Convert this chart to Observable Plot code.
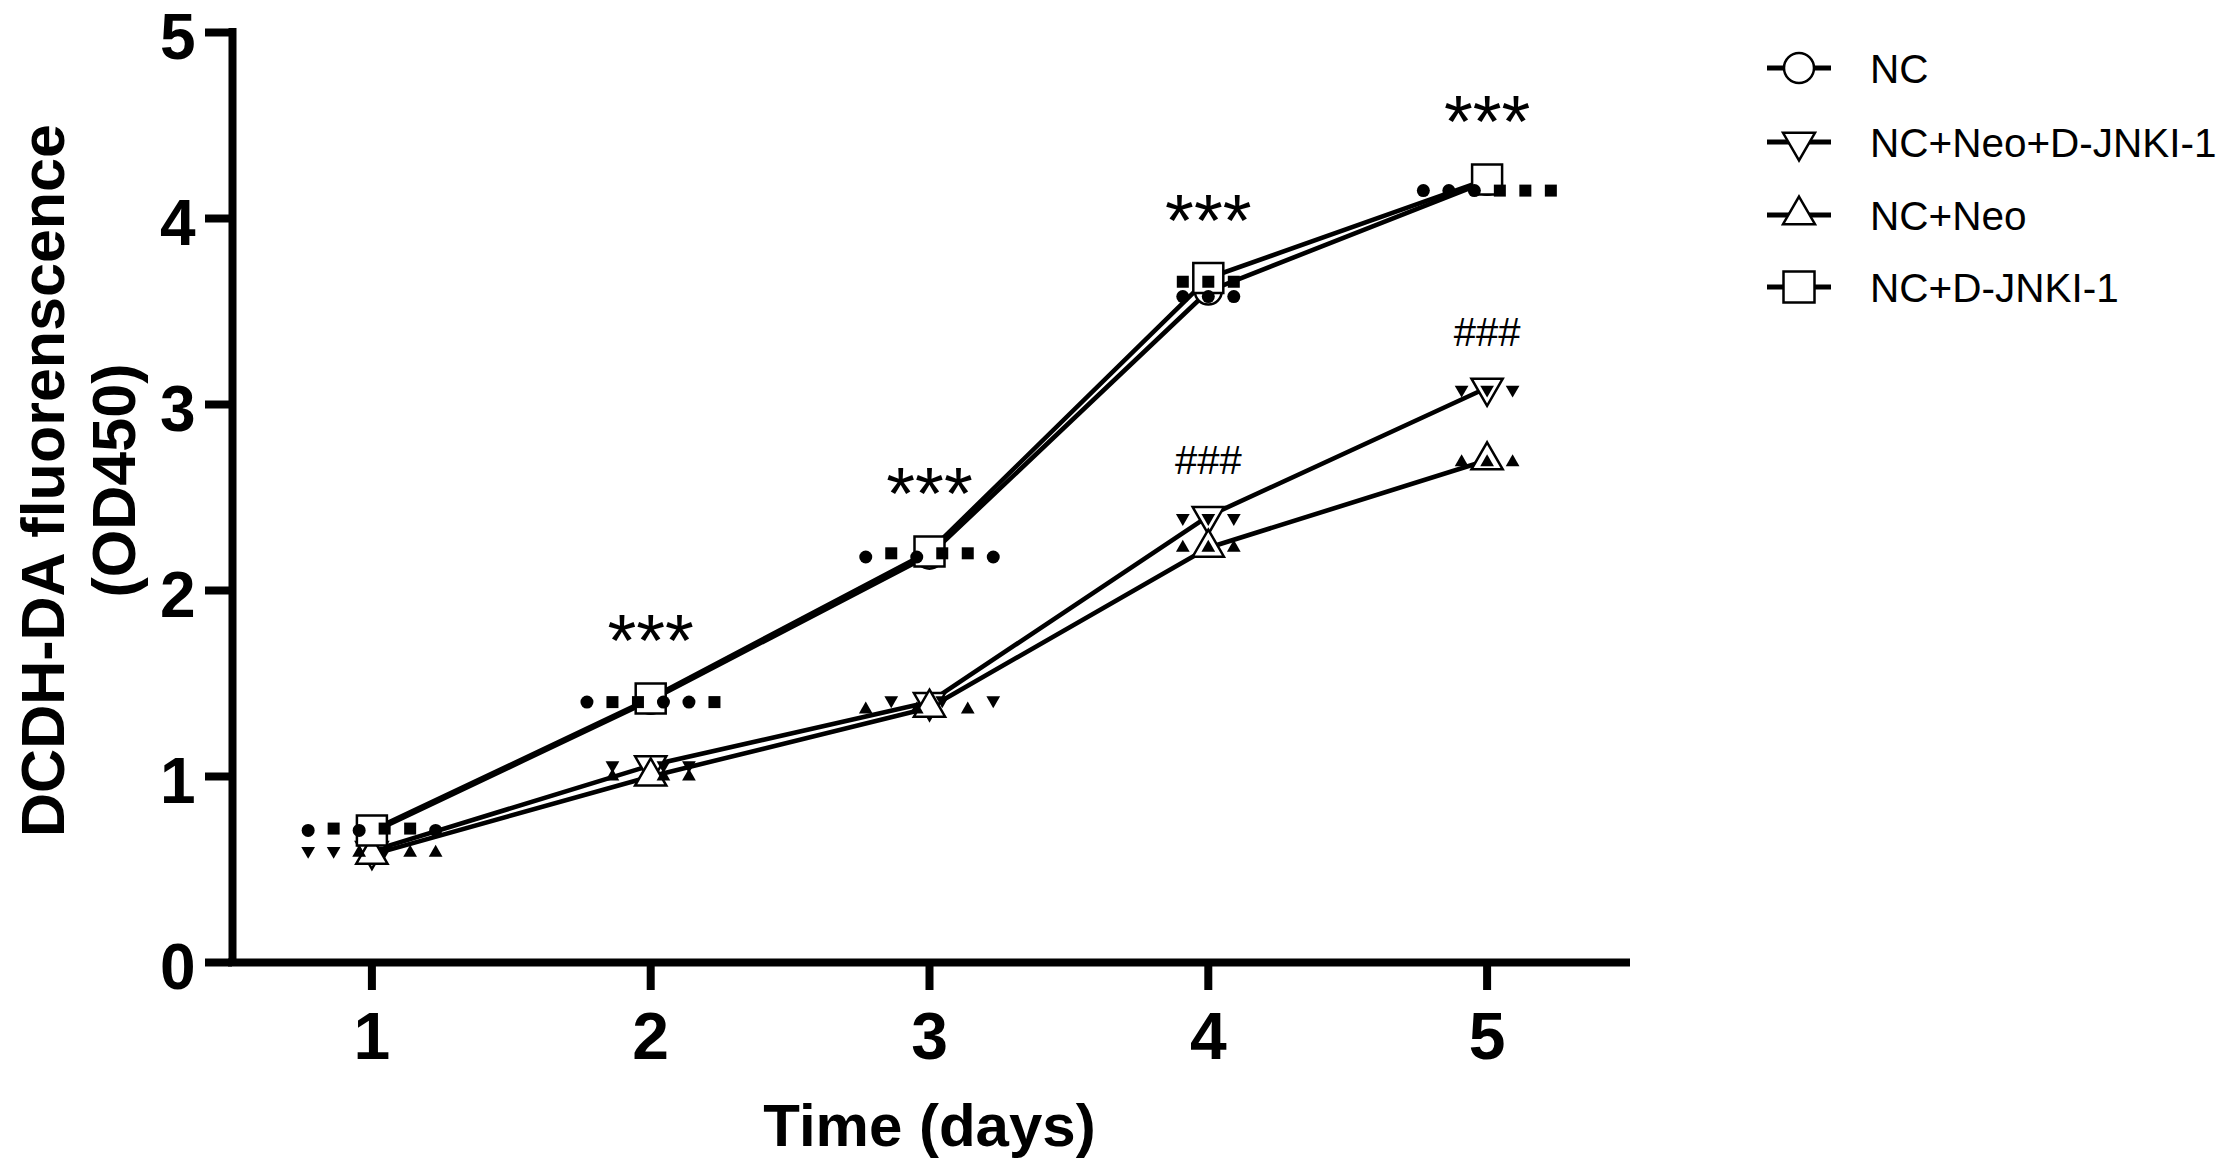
<!DOCTYPE html>
<html>
<head>
<meta charset="utf-8">
<script src="https://cdn.jsdelivr.net/npm/d3@7"></script>
<script src="https://cdn.jsdelivr.net/npm/@observablehq/plot@0.6"></script>
<style>
html, body { margin: 0; padding: 0; background: #fff; }
#wrap { position: relative; width: 2228px; height: 1174px; overflow: hidden; }
#wrap svg { display: block; }
</style>
</head>
<body>
<div id="wrap"></div>
<script>
// ---------------- data ----------------
const days = [1, 2, 3, 4, 5];
const groups = ["NC", "NC+Neo+D-JNKI-1", "NC+Neo", "NC+D-JNKI-1"];
const yTicks = [0, 1, 2, 3, 4, 5];

const meanNC    = [0.70, 1.41, 2.19, 3.61, 4.20];
const meanNeoD  = [0.60, 1.06, 1.40, 2.40, 3.09];
const meanNeo   = [0.58, 1.00, 1.37, 2.23, 2.70];
const meanD     = [0.71, 1.42, 2.21, 3.68, 4.21];

const repNC   = [[0.71, 0.71, 0.71], [1.40, 1.40, 1.40], [2.18, 2.18, 2.18], [3.58, 3.58, 3.58], [4.15, 4.15, 4.15]];
const repNeoD = [[0.60, 0.60, 0.60], [1.06, 1.06, 1.06], [1.41, 1.41, 1.41], [2.39, 2.39, 2.39], [3.08, 3.08, 3.08]];
const repNeo  = [[0.59, 0.59, 0.59], [1.00, 1.00, 1.00], [1.36, 1.36, 1.36], [2.23, 2.23, 2.23], [2.69, 2.69, 2.69]];
const repD    = [[0.72, 0.72, 0.72], [1.40, 1.40, 1.40], [2.20, 2.20, 2.20], [3.66, 3.66, 3.66], [4.15, 4.15, 4.15]];

const starDays = [2, 3, 4, 5];
const starLabel = "***";
const hashDays = [4, 5];
const hashLabel = "###";

const xTitle = "Time (days)";
const yTitle = "DCDH-DA fluorenscence\n(OD450)";

// ---------------- style: horizontal spread of replicate symbols (in slot units) ----------------
const spreadNC   = [[-2.5, -0.5, 2.5], [-2.5, 0.5, 1.5], [-2.5, -0.5, 2.5], [-1, 0, 1], [-2.5, -1.5, -0.5]];
const spreadD    = [[-1.5, 0.5, 1.5], [-1.5, -0.5, 2.5], [-1.5, 0.5, 1.5], [-1, 0, 1], [0.5, 1.5, 2.5]];
const spreadNeoD = [[-2.5, -1.5, 0.5], [-1.5, 0.5, 1.5], [-1.5, 0.5, 2.5], [-1, 0, 1], [-1, 0, 1]];
const spreadNeo  = [[-0.5, 1.5, 2.5], [-1.5, 0.5, 1.5], [-2.5, -0.5, 1.5], [-1, 0, 1], [-1, 0, 1]];
const SLOT = 25.5;

// ---------------- symbols ----------------
const triangleDown = {
  draw(context, size) {
    const y = -Math.sqrt(size / (Math.sqrt(3) * 3));
    context.moveTo(0, -y * 2);
    context.lineTo(Math.sqrt(3) * y, y);
    context.lineTo(-Math.sqrt(3) * y, y);
    context.closePath();
  }
};
const SQ = Math.sqrt(Math.PI);
const series = [
  {name: groups[0], mean: meanNC,   rep: repNC,   spread: spreadNC,   symbol: "circle",     rOpen: 13.5,    rRep: 6.5,     legendSize: Math.PI * 15 * 15},
  {name: groups[1], mean: meanNeoD, rep: repNeoD, spread: spreadNeoD, symbol: triangleDown, rOpen: 11.6,    rRep: 5.1,     legendSize: 443},
  {name: groups[2], mean: meanNeo,  rep: repNeo,  spread: spreadNeo,  symbol: "triangle",   rOpen: 11.6,    rRep: 5.1,     legendSize: 443},
  {name: groups[3], mean: meanD,    rep: repD,    spread: spreadD,    symbol: "square",     rOpen: 30 / SQ, rRep: 12 / SQ, legendSize: 31 * 31}
];

const meanRows = series.flatMap(s => days.map((d, i) => ({group: s.name, day: d, v: s.mean[i]})));

const FONT = "'Liberation Sans', Arial, Helvetica, sans-serif";

const marks = [];
// lines
marks.push(Plot.line(meanRows, {x: "day", y: "v", z: "group", stroke: "black", strokeWidth: 4.6}));
// open symbols at means
for (const s of series) {
  marks.push(Plot.dot(meanRows.filter(r => r.group === s.name), {
    x: "day", y: "v", symbol: s.symbol, r: s.rOpen, fill: "white", stroke: "black", strokeWidth: 2.5
  }));
}
// replicate filled symbols
for (const s of series) {
  const rows = [];
  days.forEach((d, i) => s.rep[i].forEach((v, j) => rows.push({day: d, v, slot: s.spread[i][j]})));
  const slots = Array.from(new Set(rows.map(r => r.slot)));
  for (const sl of slots) {
    marks.push(Plot.dot(rows.filter(r => r.slot === sl), {
      x: "day", y: "v", dx: sl * SLOT, symbol: s.symbol, r: s.rRep, fill: "black", stroke: "none"
    }));
  }
}
// significance labels
marks.push(Plot.text(starDays, {
  x: d => d, y: d => Math.max(meanNC[d - 1], meanD[d - 1]), text: () => starLabel,
  dy: -56, fontSize: 74, fontFamily: FONT, textAnchor: "middle", lineAnchor: "middle"
}));
marks.push(Plot.text(hashDays, {
  x: d => d, y: d => meanNeoD[d - 1], text: () => hashLabel,
  dy: -55, fontSize: 40, fontFamily: FONT, textAnchor: "middle", lineAnchor: "middle"
}));
// axes
marks.push(Plot.ruleY([0], {strokeWidth: 8, strokeLinecap: "square"}));
marks.push(Plot.ruleX([0.5], {strokeWidth: 8, strokeLinecap: "square"}));
marks.push(Plot.axisX({ticks: days, tickSize: 28, tickPadding: 22, strokeWidth: 8, fontSize: 66, fontWeight: "bold", fontFamily: FONT, label: null, tickFormat: d => String(d)}));
marks.push(Plot.axisY({ticks: yTicks, tickSize: 27, tickPadding: 10, strokeWidth: 8, label: null, tickFormat: () => ""}));
marks.push(Plot.text(yTicks, {
  y: d => d, text: d => String(d), frameAnchor: "left", dx: -37, dy: 6,
  textAnchor: "end", lineAnchor: "middle", fontSize: 64, fontWeight: "bold", fontFamily: FONT
}));
// axis titles
marks.push(Plot.text([xTitle], {frameAnchor: "bottom", dy: 164, fontSize: 60, fontWeight: "bold", fontFamily: FONT, lineAnchor: "middle", textAnchor: "middle"}));
marks.push(Plot.text([yTitle], {frameAnchor: "left", rotate: -90, dx: -156, dy: -17, fontSize: 61, fontWeight: "bold", fontFamily: FONT, lineAnchor: "middle", textAnchor: "middle", lineHeight: 1.16}));

const chart = Plot.plot({
  width: 2228,
  height: 1174,
  marginLeft: 232,
  marginRight: 602,
  marginTop: 32,
  marginBottom: 212,
  x: {domain: [0.5, 5.5], axis: null},
  y: {domain: [0, 5], axis: null},
  style: {fontFamily: FONT, background: "white", color: "black"},
  marks
});
const wrap = document.getElementById("wrap");
wrap.appendChild(chart);

// ---------------- legend ----------------
const leg = d3.select(wrap).append("svg")
  .attr("width", 528).attr("height", 360)
  .style("position", "absolute").style("left", "1700px").style("top", "0px");
const rowY = [68, 142, 215, 287];
series.forEach((s, i) => {
  const g = leg.append("g").attr("transform", `translate(0,${rowY[i]})`);
  g.append("line").attr("x1", 67).attr("x2", 131).attr("y1", 0).attr("y2", 0)
    .attr("stroke", "black").attr("stroke-width", 5);
  const type = s.symbol === "circle" ? d3.symbolCircle : s.symbol === "square" ? d3.symbolSquare : s.symbol === "triangle" ? d3.symbolTriangle : s.symbol;
  g.append("path").attr("transform", "translate(99,0)")
    .attr("d", d3.symbol(type, s.legendSize)())
    .attr("fill", "white").attr("stroke", "black").attr("stroke-width", 2.5);
  g.append("text").attr("x", 170).attr("y", 0).attr("dy", "0.36em")
    .attr("font-family", FONT).attr("font-size", 40.5).attr("fill", "black")
    .text(s.name);
});
</script>
</body>
</html>
